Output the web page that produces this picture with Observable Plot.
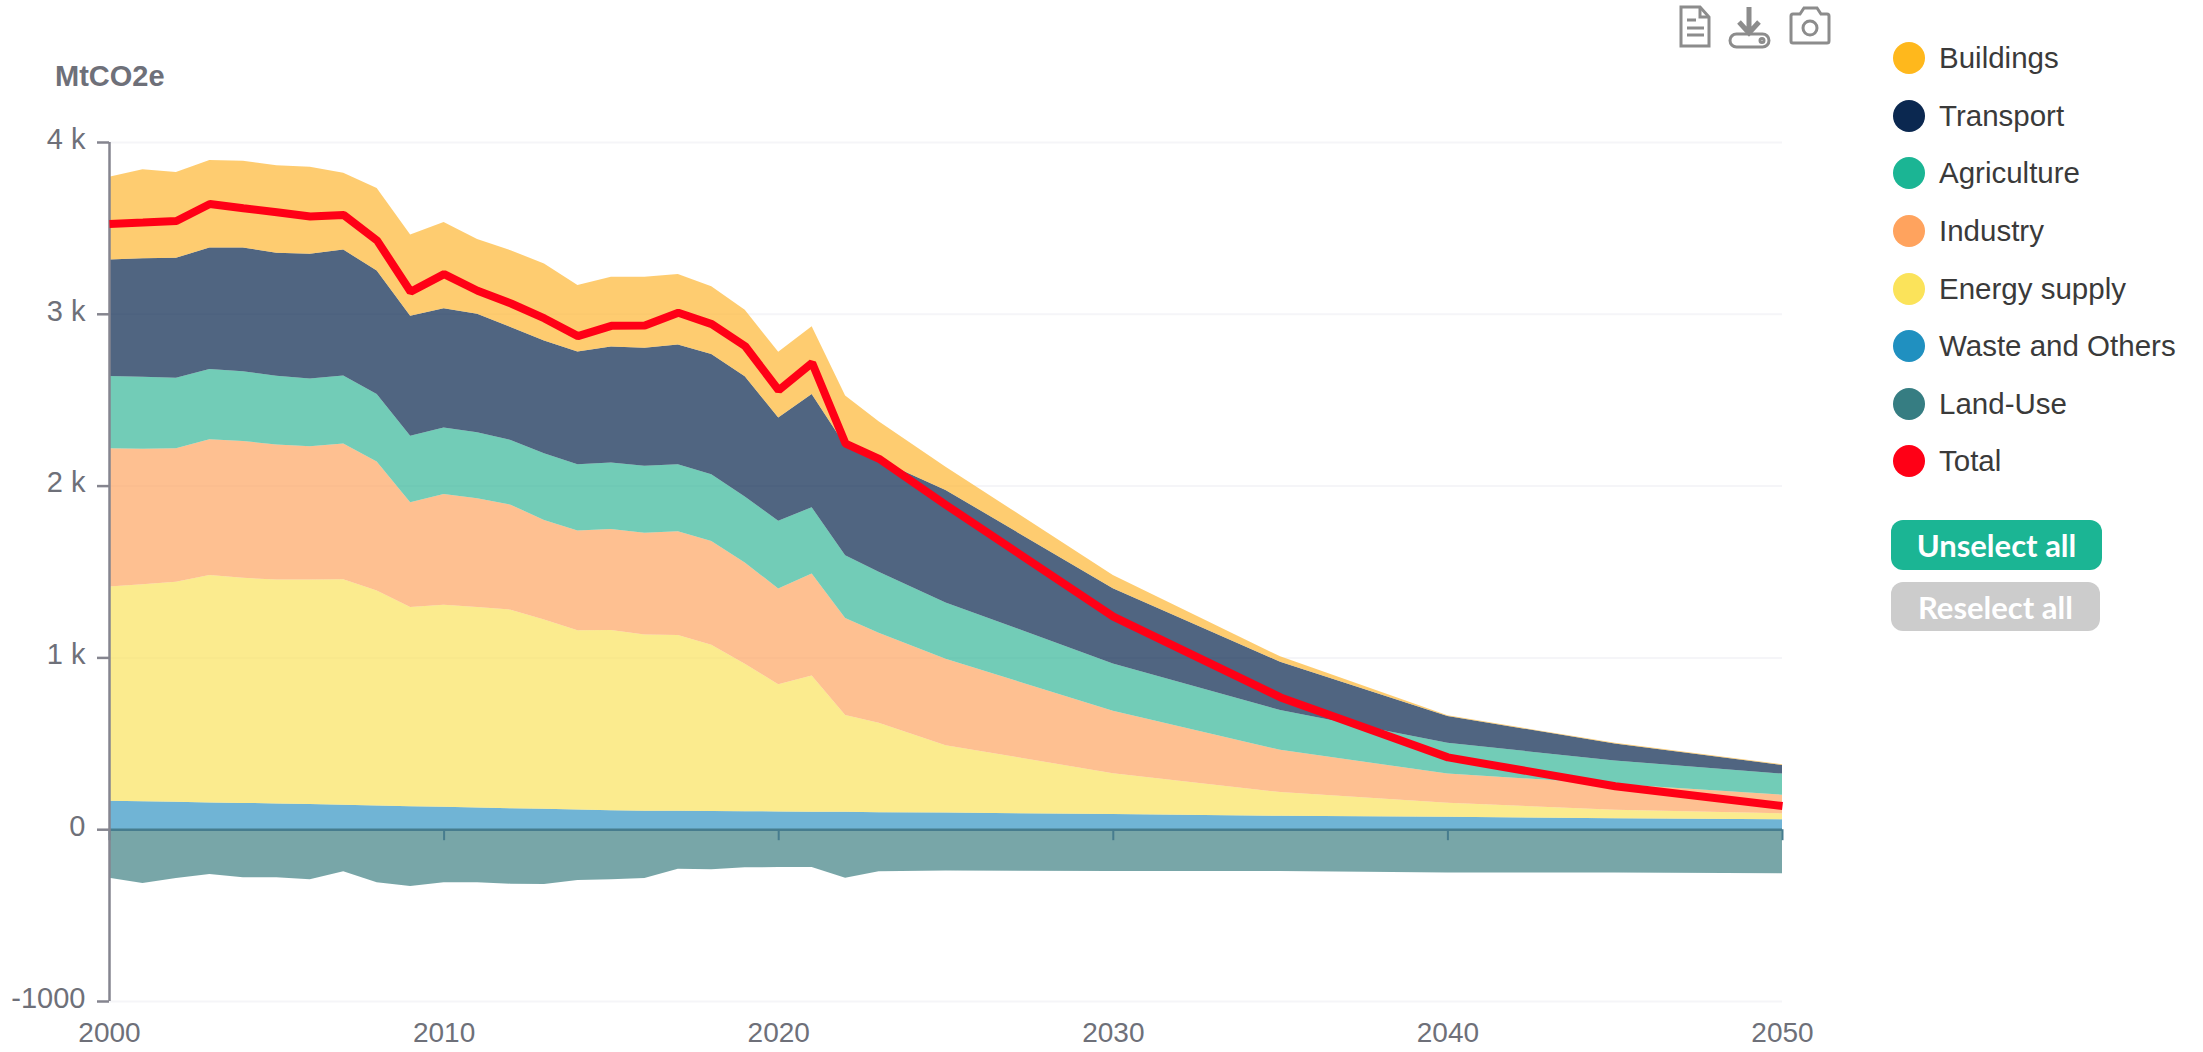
<!DOCTYPE html>
<html>
<head>
<meta charset="utf-8">
<script src="https://cdn.jsdelivr.net/npm/d3@7"></script>
<script src="https://cdn.jsdelivr.net/npm/@observablehq/plot@0.6"></script>
<style>
html,body{margin:0;padding:0;background:#fff;overflow:hidden;font-family:"Liberation Sans",sans-serif;}
#wrap{position:relative;width:2203px;height:1052px;}
#unit{position:absolute;left:55px;top:60px;font-size:29px;font-weight:700;color:#6E7079;line-height:32px;}
#legend{position:absolute;left:1893px;top:29.5px;}
.row{display:flex;align-items:center;height:57.6px;font-size:29.5px;color:#3a3a3a;white-space:nowrap;}
.dot{width:32px;height:32px;border-radius:50%;margin-right:14px;flex:none;}
.btn{position:absolute;left:1891px;border-radius:12px;color:#fff;font:700 31px Lato,sans-serif;display:flex;align-items:center;justify-content:center;}
#icons{position:absolute;left:1678px;top:4px;}
</style>
</head>
<body>
<div id="wrap">
  <div id="chart"></div>
  <div id="unit">MtCO2e</div>
  <svg id="icons" width="156" height="46" viewBox="0 0 156 46" fill="none" stroke="#8c8c8c" stroke-width="3">
    <path d="M3 3h19l9 10v29H3z"/><path d="M22 3v10h9"/><path d="M9 16h9M9 24h17M9 31h17"/>
    <path d="M71 3v25M61 18l10 11 10-11" stroke-width="5"/>
    <rect x="52" y="30" width="39" height="13" rx="6.5"/><circle cx="84" cy="36.5" r="2"/>
    <path d="M115 12h7l4-6h13l4 6h6a2 2 0 0 1 2 2v25a2 2 0 0 1-2 2h-34a2 2 0 0 1-2-2V14a2 2 0 0 1 2-2z" transform="translate(0,-2)"/>
    <circle cx="132" cy="24" r="7"/>
  </svg>
  <div id="legend"></div>
  <div class="btn" style="top:520px;width:211px;height:50px;background:#1BB594;">Unselect all</div>
  <div class="btn" style="top:582px;width:209px;height:49px;background:#CCCCCC;">Reselect all</div>
</div>
<script>
const years = [2000,2001,2002,2003,2004,2005,2006,2007,2008,2009,2010,2011,2012,2013,2014,2015,2016,2017,2018,2019,2020,2021,2022,2023,2025,2030,2035,2040,2045,2050];
const waste = [165,163,160,156,153,150,146,142,138,134,130,126,122,119,114,111,108,107,106,105,103,102,101,99,97,88,78,72,64,58];
const energy = [1247,1263,1280,1323,1310,1303,1307,1313,1251,1160,1177,1168,1156,1101,1044,1049,1026,1023,968,858,741,793,564,520,392,238,138,82,49,34];
const industry = [806,788,778,791,797,786,776,790,751,609,644,632,611,580,581,587,592,605,603,590,557,593,565,525,503,364,246,170,150,109];
const agriculture = [420,420,410,408,405,400,395,396,393,387,387,385,377,389,385,387,389,389,389,383,395,386,365,354,328,275,232,179,137,123];
const transport = [678,690,698,708,721,716,725,733,719,699,694,689,657,656,657,675,688,698,700,700,601,659,640,652,655,437,281,156,99,50];
const buildings = [482,517,499,509,505,509,507,447,480,473,503,436,447,448,387,406,412,410,394,388,382,394,290,225,135,78,31,4,4,4];
const landUse = [-282,-313,-284,-261,-280,-280,-292,-245,-309,-331,-309,-309,-317,-319,-296,-292,-284,-230,-233,-222,-220,-220,-282,-245,-240,-244,-244,-252,-252,-257];
const total = [3526,3534,3543,3642,3617,3594,3569,3578,3429,3131,3234,3137,3063,2976,2873,2933,2935,3009,2943,2814,2558,2717,2247,2159,1890,1240,770,421,253,138];

const legendNames = ["Buildings","Transport","Agriculture","Industry","Energy supply","Waste and Others","Land-Use","Total"];
const legendColors = ["#FFB81C","#0B2850","#1BB594","#FFA35E","#FBE35A","#2090C0","#367D82","#FF0016"];
const areaNames = ["Buildings","Transport","Agriculture","Industry","Energy supply","Waste and Others","Land-Use"];
const areaColors = ["#FDB633","#06244B","#36B698","#FEA563","#FAE25E","#3394C3","#3E8083"];
const xTicks = [2000,2010,2020,2030,2040,2050];
const yTicks = [-1000,0,1000,2000,3000,4000];
const stackOrder = ["Waste and Others","Energy supply","Industry","Agriculture","Transport","Buildings","Land-Use"];
const seriesValues = {"Waste and Others":waste,"Energy supply":energy,"Industry":industry,"Agriculture":agriculture,"Transport":transport,"Buildings":buildings,"Land-Use":landUse};

const rows = stackOrder.flatMap(name => years.map((year,i) => ({year, name, value: seriesValues[name][i]})));
const totals = years.map((year,i) => ({year, value: total[i]}));

const axisColor = "#6E7079";
const lineColor = "#85858F";
const chart = Plot.plot({
  width: 2203,
  height: 1052,
  marginLeft: 109,
  marginRight: 421,
  marginTop: 142,
  marginBottom: 51,
  style: {fontFamily: "'Liberation Sans',sans-serif", background: "transparent"},
  x: {type: "linear", domain: [2000,2050]},
  y: {domain: [-1000,4000]},
  color: {domain: areaNames, range: areaColors},
  marks: [
    Plot.ruleY(yTicks.filter(d => d !== 0), {stroke: "#f5f5f8", strokeWidth: 2}),
    Plot.areaY(rows, Plot.stackY({x: "year", y: "value", z: "name", fill: "name", order: stackOrder, fillOpacity: 0.7})),
    Plot.ruleY([0], {stroke: "#467C8E", strokeWidth: 2.5}),
    Plot.ruleX(xTicks, {y1: 0, y2: -64, stroke: "#467C8E", strokeWidth: 2}),
    Plot.ruleX([2000], {y1: -1000, y2: 4000, stroke: lineColor, strokeWidth: 2.5}),
    Plot.axisY({
      ticks: yTicks, tickSize: 12, label: null, stroke: lineColor, strokeWidth: 2.5, strokeOpacity: 1,
      tickFormat: () => ""
    }),
    Plot.axisY({
      ticks: yTicks, tickSize: 0, tickPadding: 24, label: null, dy: -3,
      fill: axisColor, fontSize: 29,
      tickFormat: d => d === 0 ? "0" : d < 0 ? String(d) : `${d/1000} k`
    }),
    Plot.axisX({
      ticks: xTicks, tickSize: 0, tickPadding: 21, label: null, fill: axisColor, fontSize: 28,
      tickFormat: d => String(d)
    }),
    Plot.line(totals, {x: "year", y: "value", stroke: "#FF0016", strokeWidth: 8, strokeLinejoin: "miter", strokeLinecap: "butt"})
  ]
});
document.getElementById("chart").appendChild(chart);

const legend = document.getElementById("legend");
legendNames.forEach((name,i) => {
  const row = document.createElement("div");
  row.className = "row";
  const dot = document.createElement("span");
  dot.className = "dot";
  dot.style.background = legendColors[i];
  row.appendChild(dot);
  row.appendChild(document.createTextNode(name));
  legend.appendChild(row);
});
</script>
</body>
</html>
